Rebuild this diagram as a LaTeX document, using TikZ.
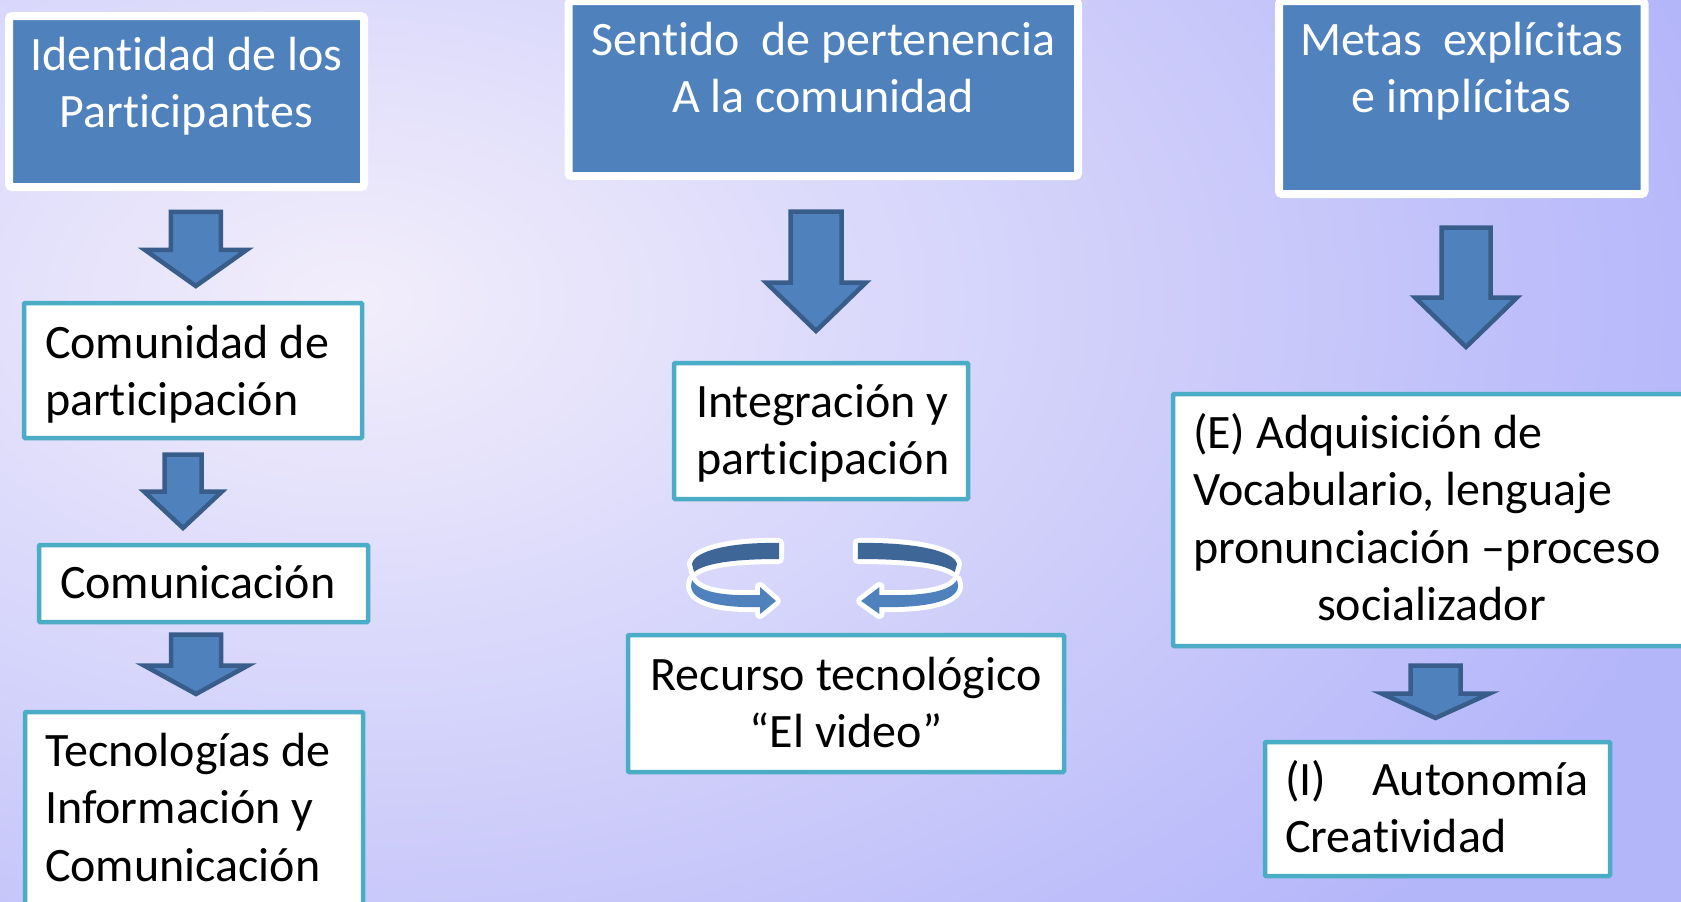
\documentclass[tikz,border=0pt]{standalone}
\usepackage{fontspec}
\setmainfont{Carlito}[Ligatures=NoCommon]
\definecolor{bgin}{RGB}{242,238,251}
\definecolor{bgout}{RGB}{180,182,250}
\definecolor{acc}{RGB}{79,129,189}
\definecolor{accdark}{RGB}{56,93,138}
\definecolor{tealb}{RGB}{75,172,198}
\definecolor{backband}{RGB}{62,103,152}
\newcommand\boxtext[5]{\parbox[c][#2][t]{#1}{\fontsize{48}{57.5}\selectfont\baselineskip=57.5pt\lineskiplimit=-100pt\lineskip=0pt\parskip=0pt #4\rule{0pt}{#3}#5}}
\newcommand\blockdown[6]{\draw[blockarrow] ({#1-#3},{#2}) -- ({#1+#3},{#2}) -- ({#1+#3},{#4}) -- ({#1+#5},{#4}) -- ({#1},{#6}) -- ({#1-#5},{#4}) -- ({#1-#3},{#4}) -- cycle;}
\newcommand\backpath{(779,543) .. controls (730,542) and (694,551) .. (692,564) -- (694,572) .. controls (705,563) and (735,559) .. (779,559) -- cycle}
\newcommand\frontpath{(692,580) .. controls (700,594) and (730,596) .. (760,595) -- (760,587) -- (776,601) -- (760,614) -- (760,607) .. controls (725,608) and (692,603) .. (691,586) -- cycle}
\newcommand\cyclearrow{%
  \path[cycout] \backpath;
  \path[cycout] \frontpath;
  \fill[backband] \backpath;
  \fill[acc] \frontpath;}
\begin{document}
\begin{tikzpicture}[x=1pt,y=-1pt,
  bluebox/.style={draw=white, line width=8pt, fill=acc, text=white, inner sep=0pt, outer sep=0pt, rounded corners=3pt, anchor=north west},
  whitebox/.style={draw=tealb, line width=4.5pt, fill=white, text=black, inner sep=0pt, outer sep=0pt, rounded corners=1pt, anchor=north west},
  blockarrow/.style={fill=acc, draw=accdark, line width=4.5pt, line join=miter},
  cycout/.style={draw=white, fill=white, line width=10pt, line join=round}]
\useasboundingbox (0,0) rectangle (1681,902);
\begin{scope}
\clip (0,0) rectangle (1681,902);
\shade[inner color=bgin, outer color=bgout] (-1050,-600) rectangle (1750,1200);

% top blue boxes
\node[bluebox] (b1) at (9,16) {\boxtext{355pt}{171pt}{54pt}{\centering}{Identidad de los\\Participantes}};
\node[bluebox] (b2) at (568.5,1) {\boxtext{509.5pt}{175pt}{54pt}{\centering}{Sentido~ de pertenencia\\A la comunidad}};
\node[bluebox] (b3) at (1279,1) {\boxtext{365.5pt}{193pt}{54pt}{\centering}{Metas~ explícitas\\e implícitas}};

% left column
\node[whitebox] (w1) at (24,303) {\boxtext{338pt}{135pt}{55pt}{\raggedright\leftskip=21pt}{Comunidad de\\participación}};
\node[whitebox] (w2) at (39,545) {\boxtext{329pt}{77pt}{53pt}{\raggedright\leftskip=21pt}{Comunicación}};
\node[whitebox] (w3) at (25,712) {\boxtext{338pt}{220pt}{54pt}{\raggedright\leftskip=20pt}{Tecnologías de\\Información y\\Comunicación}};

% middle column
\node[whitebox] (w4) at (674,363) {\boxtext{294pt}{136pt}{54pt}{\raggedright\leftskip=22pt}{Integración y\\participación}};
\node[whitebox] (w5) at (628,635) {\boxtext{436pt}{137pt}{55pt}{\centering}{Recurso tecnológico\\“El video”}};

% right column
\node[whitebox] (w6) at (1173,394) {\boxtext{517pt}{252pt}{54pt}{\raggedright\leftskip=20pt}{(E) Adquisición de\\Vocabulario, lenguaje\\pronunciación –proceso\par\centering socializador}};
\node[whitebox] (w7) at (1265,742) {\boxtext{345pt}{134pt}{53pt}{\raggedright\leftskip=20pt}{(I)\hspace*{35pt} Autonomía\\Creatividad}};

% block arrows
\blockdown{195.8}{211.8}{25}{249.8}{51}{286}
\blockdown{183}{454.5}{18.5}{491.5}{39}{528}
\blockdown{196}{634.5}{25}{665.5}{52}{694}
\blockdown{816}{211.5}{25.5}{282.5}{50}{331}
\blockdown{1466}{227.5}{24.5}{297.5}{51}{347}
\blockdown{1435.5}{665.5}{25}{693.5}{54}{718}

% circular arrows
\cyclearrow
\begin{scope}[xshift=1746.6pt, xscale=-1.141]
\cyclearrow
\end{scope}
\end{scope}
\end{tikzpicture}
\end{document}
